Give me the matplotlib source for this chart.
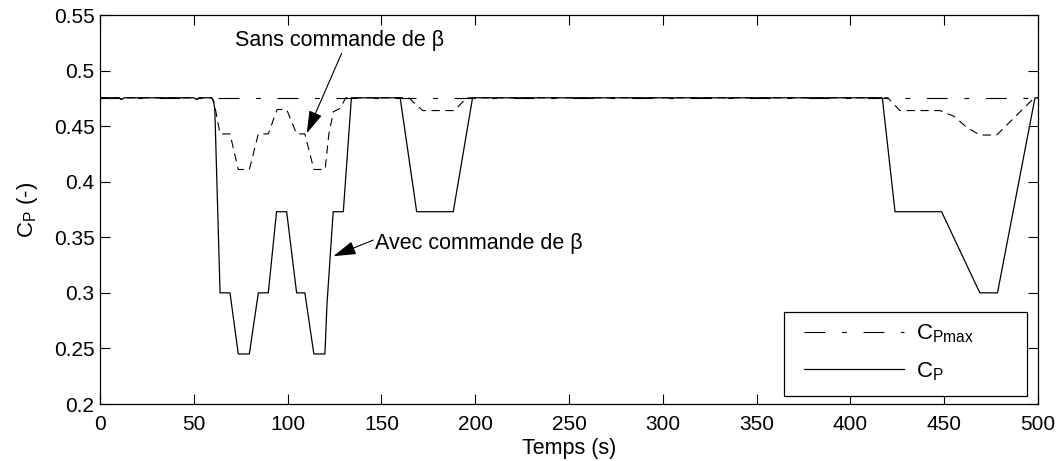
import matplotlib
matplotlib.use("Agg")
import matplotlib.pyplot as plt
from matplotlib.patches import Rectangle

plt.rcParams['font.family'] = ['Liberation Sans', 'DejaVu Sans']
plt.rcParams['mathtext.fontset'] = 'custom'
plt.rcParams['mathtext.rm'] = 'Liberation Sans'
plt.rcParams['mathtext.it'] = 'Liberation Sans'
plt.rcParams['lines.scale_dashes'] = False

# ---- data ----
t_cpmax = [0, 500]
cpmax = [0.4755, 0.4755]

t_avec = [0, 10, 11.5, 13, 50, 51.5, 53, 59.5, 60.5, 61.2, 64, 69.3, 73.7, 79.6, 84.4,
          89.7, 94.1, 99.5, 104.8, 109.2, 114, 119.9, 121, 124.3, 129.7, 134,
          160, 168.8, 188.3, 198.6, 417, 423.8, 448.6, 469, 478.4, 498.4, 500]
cp_avec = [0.4755, 0.4755, 0.474, 0.4755, 0.4755, 0.474, 0.4755, 0.4755, 0.473, 0.465, 0.300, 0.300, 0.245, 0.245, 0.300,
           0.300, 0.373, 0.373, 0.300, 0.300, 0.245, 0.245, 0.290, 0.373, 0.373, 0.4755,
           0.4755, 0.373, 0.373, 0.4755, 0.4755, 0.373, 0.373, 0.300, 0.300, 0.4755, 0.4755]

t_sans = [0, 10, 11.5, 13, 50, 51.5, 53, 59.5, 61, 64, 69.3, 73.7, 79.6, 84.4,
          89.7, 94.4, 99.5, 104.8, 109.2, 114, 120, 122, 124.4, 128, 131,
          164.6, 172, 189, 195.4, 420, 426.4, 447.8, 455, 462, 469, 478, 498, 500]
cp_sans = [0.4755, 0.4755, 0.474, 0.4755, 0.4755, 0.474, 0.4755, 0.4755, 0.470, 0.443, 0.443, 0.411, 0.411, 0.443,
           0.443, 0.465, 0.465, 0.443, 0.443, 0.411, 0.411, 0.443, 0.463, 0.466, 0.4755,
           0.4755, 0.464, 0.464, 0.4755, 0.4755, 0.464, 0.464, 0.459, 0.449, 0.442, 0.442, 0.4755, 0.4755]

xticks = [0, 50, 100, 150, 200, 250, 300, 350, 400, 450, 500]
yticks = [0.2, 0.25, 0.3, 0.35, 0.4, 0.45, 0.5, 0.55]
ytick_labels = ['0.2', '0.25', '0.3', '0.35', '0.4', '0.45', '0.5', '0.55']

fig = plt.figure(figsize=(10.58, 4.61), dpi=100)
ax = fig.add_axes([100/1058, 57/461, 938/1058, 389/461])

ax.plot(t_cpmax, cpmax, color='k', lw=0.8, dashes=(15, 12, 3.5, 12),
        label=r'$\mathregular{C_{Pmax}}$')
ax.plot(t_sans, cp_sans, color='k', lw=0.8, dashes=(6, 4))
ax.plot(t_avec, cp_avec, color='k', lw=0.9, label=r'$\mathregular{C_P}$')

ax.set_xlim(0, 500)
ax.set_ylim(0.2, 0.55)
ax.set_xticks(xticks)
ax.set_xticklabels([str(x) for x in xticks])
ax.set_yticks(yticks)
ax.set_yticklabels(ytick_labels)
ax.tick_params(direction='in', length=7, width=0.8, top=True, right=True,
               labelsize=15, pad=4)
ax.tick_params(axis='x', pad=8)
for s in ax.spines.values():
    s.set_linewidth(0.9)

ax.set_xlabel('Temps (s)', fontsize=15.5, labelpad=3)
ax.set_ylabel(r'$\mathregular{C_P}$ (-)', fontsize=16, labelpad=10)

ax.text(72, 0.527, 'Sans commande de β', fontsize=15.5, ha='left', va='center')
ax.text(146.6, 0.3445, 'Avec commande de β', fontsize=15.5, ha='left', va='center')
arrow = dict(arrowstyle='-|>,head_length=1.0,head_width=0.3', color='k', lw=0.8,
             shrinkA=0, shrinkB=0, mutation_scale=14)
ax.annotate('', xy=(110.2, 0.4435), xytext=(128.8, 0.5155), arrowprops=arrow)
ax.annotate('', xy=(124.4, 0.333), xytext=(145.7, 0.3475), arrowprops=arrow)

# legend frame (MATLAB-style wide box) and entries
frame = Rectangle((0.7292, 0.0206), 0.9883 - 0.7292, 0.2365 - 0.0206,
                  transform=ax.transAxes, facecolor='white', edgecolor='k',
                  lw=0.9, zorder=4)
ax.add_patch(frame)
leg = ax.legend(loc='center left', bbox_to_anchor=(0.7505, 0.1324), borderaxespad=0,
                borderpad=0, fontsize=16, handlelength=4.5, handletextpad=0.55,
                frameon=False, labelspacing=0.68)
leg.set_zorder(5)

fig.savefig('out.png', dpi=100)
